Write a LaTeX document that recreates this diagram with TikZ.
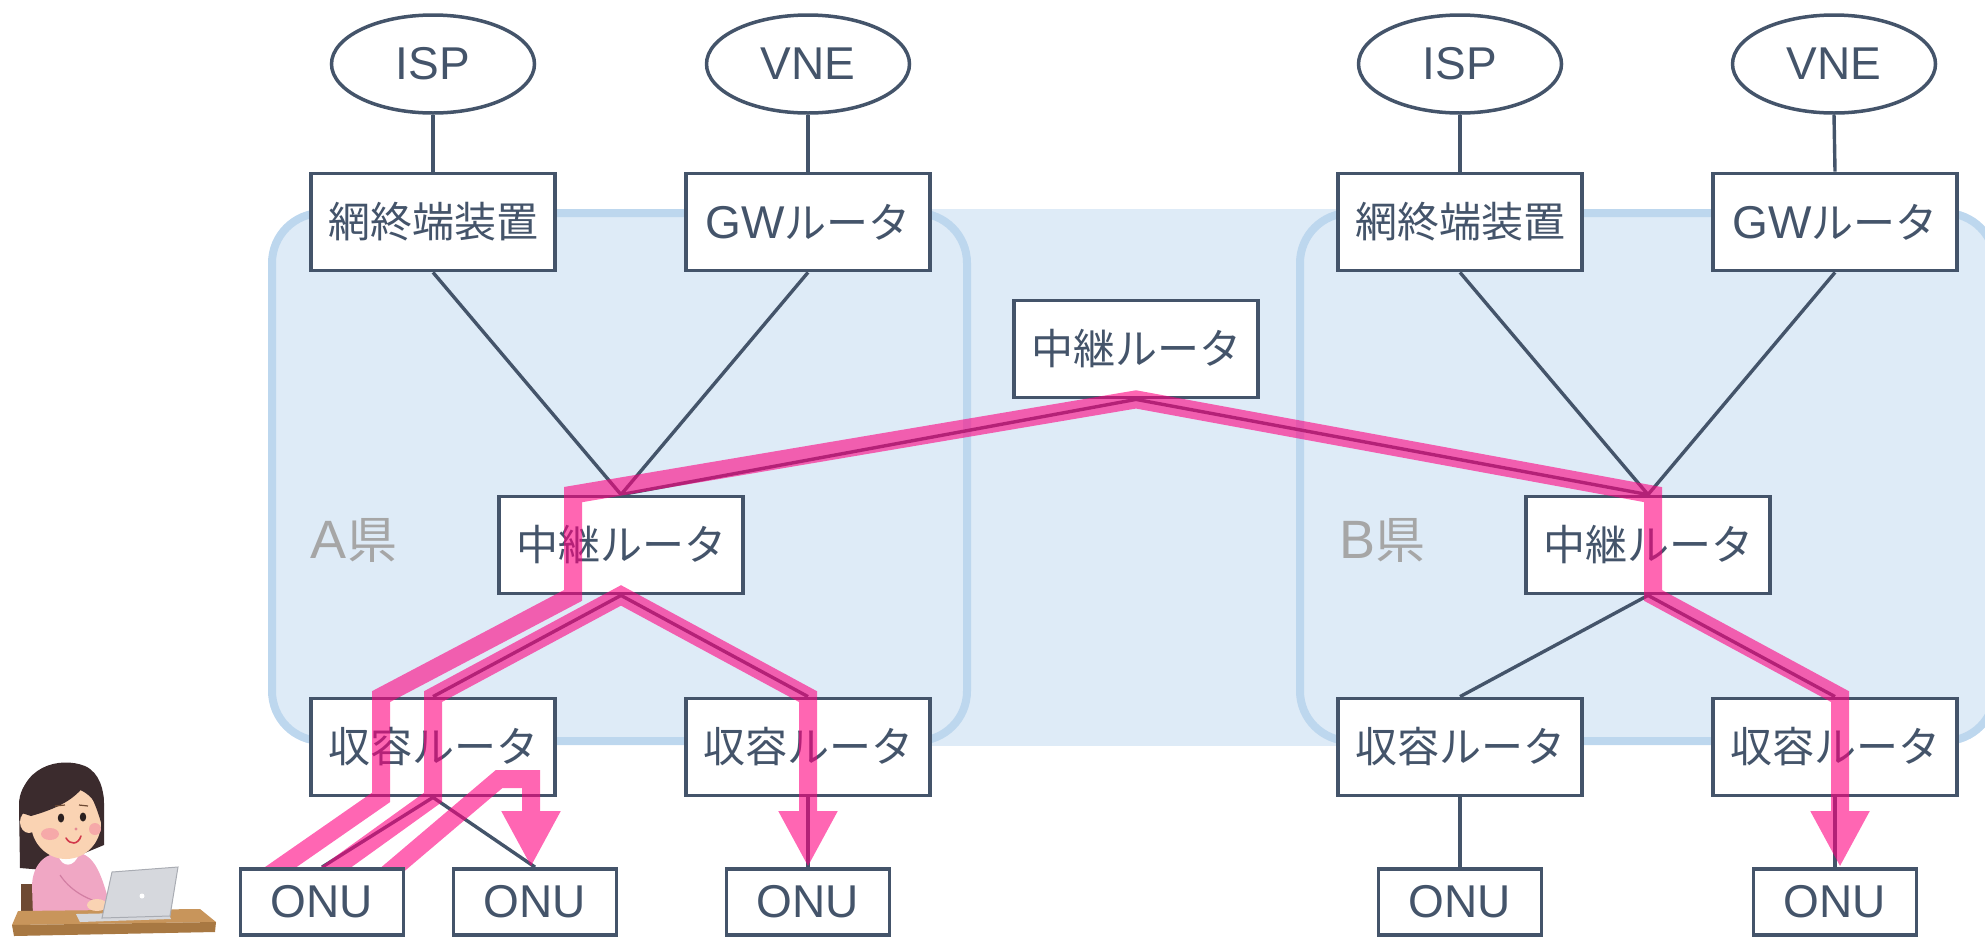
\documentclass[tikz,border=0pt]{standalone}
\usepackage{fontspec}
\newfontfamily\jpfont{Noto Sans CJK JP}
\newfontfamily\latfont{Liberation Sans}
\newcommand{\latn}[1]{{\latfont\fontsize{46}{50}\selectfont #1}}
\usetikzlibrary{shapes.geometric, arrows.meta, calc}
\definecolor{slate}{HTML}{44546A}
\definecolor{areafill}{HTML}{DEEBF7}
\definecolor{arealine}{HTML}{BDD7EE}
\definecolor{routepink}{RGB}{255,0,128}
\definecolor{labelgray}{HTML}{A6A6A6}
\definecolor{hairbrown}{HTML}{3B2B2D}
\definecolor{skin}{HTML}{FAD3B3}
\definecolor{sweater}{HTML}{F0A7C4}
\definecolor{sweaterdark}{HTML}{D27FA3}
\definecolor{chairbrown}{HTML}{6E4A33}
\definecolor{desktop}{HTML}{C8955B}
\definecolor{deskfront}{HTML}{A87842}
\definecolor{laptopgray}{HTML}{D6D8DD}
\definecolor{laptopedge}{HTML}{A9ACB3}
\definecolor{blush}{HTML}{F6A9A9}
\definecolor{ink}{HTML}{2B2020}
\definecolor{mouthred}{HTML}{D2384B}
\pgfdeclarelayer{bg}
\pgfdeclarelayer{fg}
\pgfsetlayers{bg,main,fg}

\begin{document}
\begin{tikzpicture}[x=1pt, y=-1pt,
  box/.style={draw=slate, line width=3.8pt, fill=white, text=slate, minimum width=244pt, minimum height=97pt, inner sep=0pt, font=\jpfont\fontsize{42}{50}\selectfont},
  onubox/.style={box, minimum width=163pt, minimum height=66pt},
  prov/.style={box, ellipse, line width=3.5pt, minimum width=203pt, minimum height=98pt},
  area/.style={draw=arealine, line width=8pt, fill=areafill, rounded corners=50pt},
  pref/.style={text=labelgray, font=\jpfont\fontsize{50}{60}\selectfont},
  link/.style={draw=slate, line width=3.4pt},
  route/.style={draw=routepink, line width=18pt},
  routearrow/.style={route, -{Triangle[width=55pt, length=56pt]}}
]
  \useasboundingbox (0,0) rectangle (1985,938);

  % prefecture areas
  \begin{pgfonlayer}{bg}
    \fill[areafill] (900,209) rectangle (1360,746);
    \draw[area] (272,213) rectangle (967,741);
    \draw[area] (1300,213) rectangle (1995,741);
    \node[pref] (prefA) at (354,540) {{\latfont\fontsize{54}{60}\selectfont A}県};
    \node[pref] (prefB) at (1382,540) {{\latfont\fontsize{54}{60}\selectfont B}県};
  \end{pgfonlayer}

  % user at the desk
  \fill[chairbrown] (21,884) rectangle (35,918);
  \fill[hairbrown] (20,868) -- (19,805) .. controls (19,756) and (104,754) .. (104,803) -- (104,845) -- (44,870) -- cycle;
  \fill[sweater] (33,916) -- (32,885) .. controls (33,862) and (48,852) .. (62,853) -- (80,853) .. controls (96,857) and (102,878) .. (108,898) -- (114,914) -- cycle;
  \fill[white] (58,855) .. controls (62,868) and (74,868) .. (79,854) -- cycle;
  \fill[skin] (66,823) ellipse (35 and 36);
  \fill[skin] (29,822) ellipse (9 and 11);
  \fill[hairbrown] (19,812) .. controls (18,766) and (60,756) .. (85,766) .. controls (100,773) and (104,790) .. (104,805) -- (103,830) .. controls (98,810) and (92,795) .. (84,786) .. controls (72,802) and (52,810) .. (31,816) -- cycle;
  \fill[ink] (61,818) ellipse (3.2 and 4.5);
  \fill[ink] (83,817) ellipse (3.2 and 4.5);
  \draw[chairbrown, line width=1.2pt] (55,806) -- (65,805);
  \draw[chairbrown, line width=1.2pt] (79,805) -- (88,806);
  \fill[blush] (50,834) ellipse (9 and 6);
  \fill[blush] (95,829) ellipse (6 and 6);
  \fill[mouthred!60] (76,829) circle (1.6);
  \draw[mouthred, line width=1.6pt, line cap=round] (66,838) .. controls (70,845) and (78,845) .. (81,836);
  \draw[sweaterdark, line width=1.2pt] (60,875) .. controls (70,890) and (85,898) .. (98,902);
  \fill[desktop] (18,911) -- (200,909) -- (216,922) -- (12,925) -- cycle;
  \fill[deskfront] (12,925) -- (216,922) -- (215,932) -- (14,936) -- cycle;
  \fill[laptopgray] (76,914) -- (168,912) -- (171,919) -- (80,922) -- cycle;
  \fill[skin] (97,905) ellipse (10 and 6);
  \filldraw[fill=laptopgray, draw=laptopedge, line width=1pt] (112,872) -- (178,867) -- (170,916) -- (102,918) -- cycle;
  \fill[white] (142,896) circle (2.5);

  % providers and gateways
  \node[prov] (ispA) at (433,64) {\latn{ISP}};
  \node[prov] (vneA) at (808,64) {\latn{VNE}};
  \node[prov] (ispB) at (1460,64) {\latn{ISP}};
  \node[prov] (vneB) at (1834,64) {\latn{VNE}};
  \node[box] (nteA) at (433,222) {網終端装置};
  \node[box] (gwA) at (808,222) {\latn{GW}ルータ};
  \node[box] (nteB) at (1460,222) {網終端装置};
  \node[box] (gwB) at (1835,222) {\latn{GW}ルータ};

  % relay and access routers
  \node[box] (relC) at (1136,349) {中継ルータ};
  \node[box] (relA) at (621,545) {中継ルータ};
  \node[box] (relB) at (1648,545) {中継ルータ};
  \node[box] (accA1) at (433,747) {収容ルータ};
  \node[box] (accA2) at (808,747) {収容ルータ};
  \node[box] (accB1) at (1460,747) {収容ルータ};
  \node[box] (accB2) at (1835,747) {収容ルータ};

  % ONUs sit above the routes
  \begin{pgfonlayer}{fg}
    \node[onubox] (onuA1) at (322,902) {\latn{ONU}};
    \node[onubox] (onuA2) at (535,902) {\latn{ONU}};
    \node[onubox] (onuA3) at (808,902) {\latn{ONU}};
    \node[onubox] (onuB1) at (1460,902) {\latn{ONU}};
    \node[onubox] (onuB2) at (1835,902) {\latn{ONU}};
  \end{pgfonlayer}

  \draw[link] (ispA.south) -- (nteA.north);
  \draw[link] (vneA.south) -- (gwA.north);
  \draw[link] (ispB.south) -- (nteB.north);
  \draw[link] (vneB.south) -- (gwB.north);
  \draw[link] (nteA.south) -- (relA.north);
  \draw[link] (gwA.south) -- (relA.north);
  \draw[link] (nteB.south) -- (relB.north);
  \draw[link] (gwB.south) -- (relB.north);
  \draw[link] (relA.north) -- (relC.south) -- (relB.north);
  \draw[link] (relA.south) -- (accA1.north);
  \draw[link] (relA.south) -- (accA2.north);
  \draw[link] (relB.south) -- (accB1.north);
  \draw[link] (relB.south) -- (accB2.north);
  \draw[link] (accA1.south) -- (onuA1.north);
  \draw[link] (accA1.south) -- (onuA2.north);
  \draw[link] (accA2.south) -- (onuA3.north);
  \draw[link] (accB1.south) -- (onuB1.north);
  \draw[link] (accB2.south) -- (onuB2.north);

  % traffic routes
  \begin{scope}[transparency group, opacity=0.6]
    \draw[routearrow] ($(onuA1.north)+(-60,13)$) -- ($(accA1.south)+(-52,0)$) -- ($(accA1.north)+(-52,0)$)
      -- ($(relA.south)+(-48,0)$) -- ($(relA.north)+(-48,0)$) -- (relC.south)
      -- ($(relB.north)+(5,0)$) -- ($(relB.south)+(5,0)$) -- ($(accB2.north)+(5,0)$) -- ($(onuB2.north)+(5,0)$);
    \draw[routearrow] ($(onuA1.north)+(-4,13)$) -- (accA1.south) -- (accA1.north)
      -- (relA.south) -- (accA2.north) -- (onuA3.north);
    \draw[routearrow] ($(onuA1.north)+(58,13)$) -- ($(onuA2.north)+(-36,-88)$) -- ($(onuA2.north)+(-4,-88)$)
      -- ($(onuA2.north)+(-4,0)$);
  \end{scope}
\end{tikzpicture}
\end{document}
